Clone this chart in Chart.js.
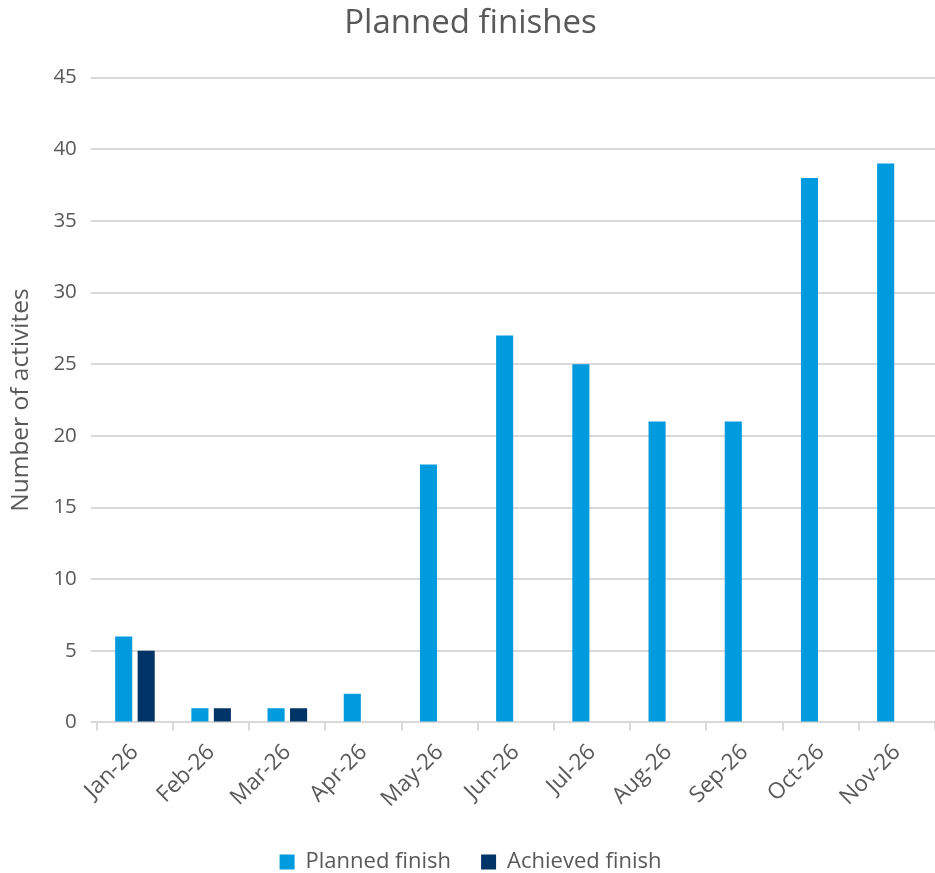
<!DOCTYPE html>
<html>
<head>
<meta charset="utf-8">
<script src="https://cdn.jsdelivr.net/npm/chart.js@4"></script>
<style>
  html, body { margin: 0; padding: 0; background: #fff; }
  #wrap { width: 935px; height: 873px; }
</style>
</head>
<body>
<div id="wrap"><canvas id="chart" width="935" height="873"></canvas></div>
<script>
// ── Data ──
const months   = ["Jan-26", "Feb-26", "Mar-26", "Apr-26", "May-26", "Jun-26", "Jul-26", "Aug-26", "Sep-26", "Oct-26", "Nov-26"];
const planned  = [6, 1, 1, 2, 18, 27, 25, 21, 21, 38, 39];
const achieved = [5, 1, 1, null, null, null, null, null, null, null, null];
const yTicks   = [0, 5, 10, 15, 20, 25, 30, 35, 40, 45];

const FONT = "'Open Sans', 'Noto Sans', sans-serif";
const TEXT = "#595959";
const GRID = "#d9d9d9";

// legend: keep wide gaps between items but sit it close to the bottom edge
const tightLegend = {
  id: "tightLegend",
  beforeInit(chart) {
    const fit = chart.legend.fit;
    chart.legend.fit = function () {
      fit.call(this);
      this.height -= 10;
    };
  }
};

new Chart(document.getElementById("chart"), {
  type: "bar",
  data: {
    labels: months,
    datasets: [
      { label: "Planned finish",  data: planned,  backgroundColor: "#009ade" },
      { label: "Achieved finish", data: achieved, backgroundColor: "#003366" }
    ]
  },
  plugins: [tightLegend],
  options: {
    responsive: false,
    devicePixelRatio: 1,
    animation: false,
    datasets: { bar: { categoryPercentage: 0.59, barPercentage: 0.76 } },
    layout: { padding: { left: 6, right: 0, top: 4, bottom: 0 } },
    plugins: {
      title: {
        display: true,
        text: "Planned finishes",
        color: TEXT,
        font: { family: FONT, size: 33, weight: "normal" },
        padding: { top: 0, bottom: 34 }
      },
      legend: {
        position: "bottom",
        labels: {
          color: TEXT,
          font: { family: FONT, size: 22 },
          boxWidth: 15,
          boxHeight: 15,
          padding: 30
        }
      },
      tooltip: { enabled: false }
    },
    scales: {
      x: {
        grid: { offset: true, drawOnChartArea: false, color: GRID, tickLength: 8, lineWidth: 2 },
        border: { color: GRID, width: 2 },
        ticks: { color: TEXT, font: { family: FONT, size: 22.5 }, maxRotation: 45, minRotation: 45, padding: 8.5 }
      },
      y: {
        min: 0,
        max: 45,
        afterBuildTicks: axis => { axis.ticks = yTicks.map(v => ({ value: v })); },
        grid: { color: GRID, lineWidth: 2, tickLength: 6 },
        border: { display: false },
        ticks: { color: TEXT, font: { family: FONT, size: 20.5 }, padding: 14 },
        title: {
          display: true,
          text: "Number of activites",
          color: TEXT,
          font: { family: FONT, size: 24.5 },
          padding: { top: 0, bottom: 4 }
        }
      }
    }
  }
});
</script>
</body>
</html>
